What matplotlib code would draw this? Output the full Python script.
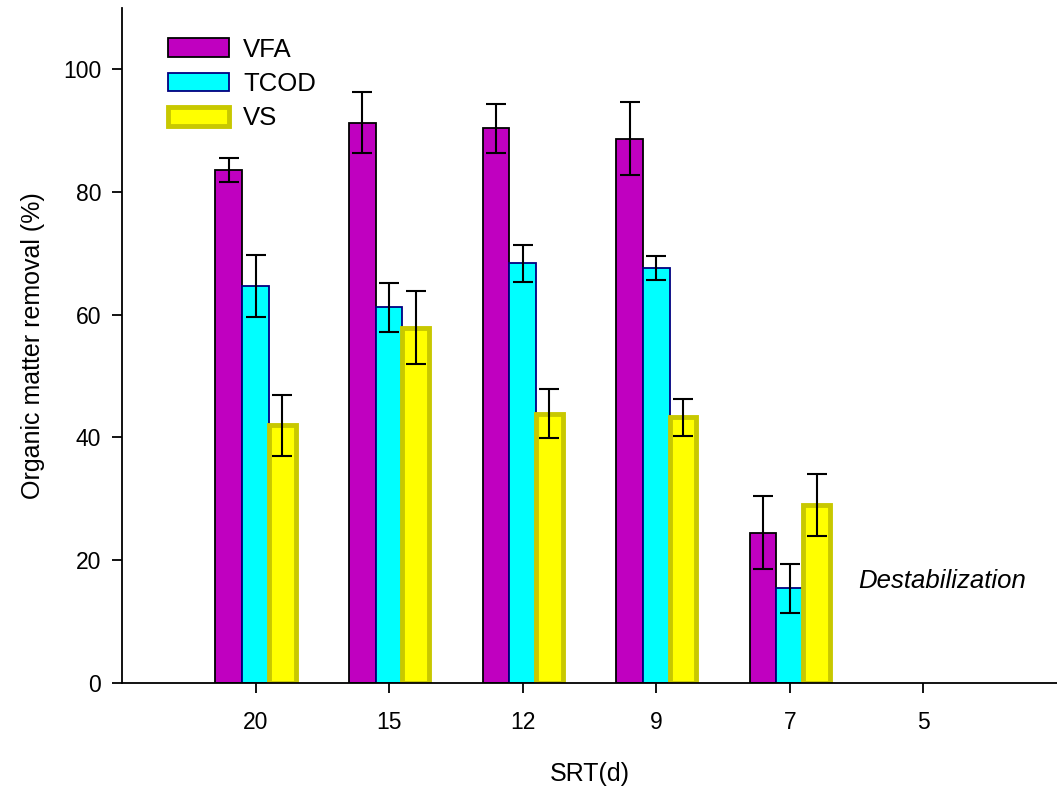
import numpy as np
import matplotlib
matplotlib.use("Agg")
from matplotlib import pyplot as plt

plt.rcParams['font.family'] = ['Liberation Sans', 'DejaVu Sans']

# data
srt = ['20', '15', '12', '9', '7', '5']
vfa = [83.6, 91.3, 90.4, 88.7, 24.5, np.nan]
vfa_err = [2.0, 5.0, 4.0, 6.0, 6.0, np.nan]
tcod = [64.7, 61.2, 68.4, 67.6, 15.4, np.nan]
tcod_err = [5.0, 4.0, 3.0, 2.0, 4.0, np.nan]
vs = [42.0, 57.9, 43.9, 43.3, 29.0, np.nan]
vs_err = [5.0, 6.0, 4.0, 3.0, 5.0, np.nan]

x = np.arange(1, len(srt) + 1)
w = 0.2

fig = plt.figure(figsize=(10.57, 7.99), dpi=100)
ax = fig.add_axes([0.1154, 0.1452, 0.8846, 0.845])

err_kw = dict(ecolor='black', elinewidth=1.5, capsize=7, capthick=1.5)
ax.bar(x - w, vfa, w, yerr=vfa_err, color='#c000c0', edgecolor='black',
       linewidth=1.3, label='VFA', error_kw=err_kw)
ax.bar(x, tcod, w, yerr=tcod_err, color='#00ffff', edgecolor='#000080',
       linewidth=1.3, label='TCOD', error_kw=err_kw)
ax.bar(x + w, vs, w, yerr=vs_err, color='#ffff00', edgecolor='#c8c800',
       linewidth=3.5, label='VS', error_kw=err_kw)

ax.text(6.14, 16.6, 'Destabilization', fontsize=18.5, style='italic',
        ha='center', va='center')

ax.set_xlim(0, 7)
ax.set_ylim(0, 110)
ax.set_xticks(x)
ax.set_xticklabels(srt)
ax.set_yticks([0, 20, 40, 60, 80, 100])
ax.tick_params(labelsize=16.5, direction='out', length=7, width=1.3)
ax.tick_params(axis='x', pad=13)
ax.tick_params(axis='y', pad=8)
ax.spines['top'].set_visible(False)
ax.spines['right'].set_visible(False)
ax.spines['left'].set_linewidth(1.3)
ax.spines['bottom'].set_linewidth(1.3)

ax.set_xlabel('SRT(d)', fontsize=18, labelpad=20)
ax.set_ylabel('Organic matter removal (%)', fontsize=18, labelpad=13)

ax.legend(loc='upper left', bbox_to_anchor=(0.024, 0.99), frameon=False,
          fontsize=18.5, handlelength=2.4, handleheight=0.75, labelspacing=0.4,
          handletextpad=0.55)

plt.savefig('out.png', dpi=100)
